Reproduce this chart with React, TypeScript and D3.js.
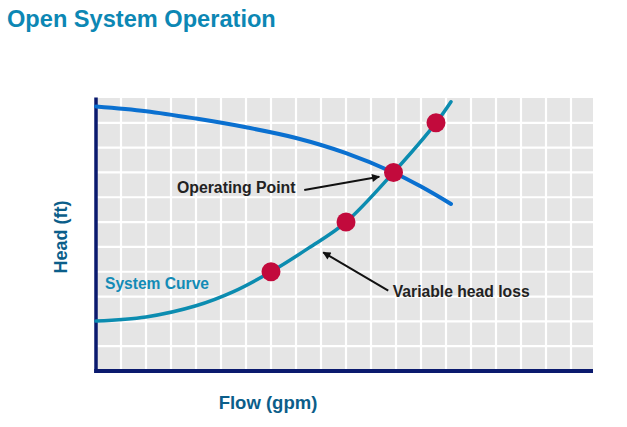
import * as d3 from "d3";

// Flow (gpm) / head (ft) values
const pumpFlow = [0, 20, 40, 60, 80, 100, 119, 130, 142];
const pumpHead = [106.6, 104.7, 101.7, 98.2, 93.9, 87.8, 80, 74.3, 67.3];

const systemFlow = [0, 20, 40, 55, 70, 85, 100, 119, 136, 142];
const systemHead = [20.1, 21.8, 26.3, 32, 40, 49.5, 60, 80, 100, 108.5];

const pointFlow = [70, 100, 119, 136];
const pointHead = [40, 60, 80, 100];

const gridFlow = d3.range(10, 200, 10);
const gridHead = d3.range(10, 110, 10);

const W = 627;
const H = 427;
const FONT = "'Liberation Sans', Arial, Helvetica, sans-serif";

export default function App() {
  const x = d3.scaleLinear().domain([0, 200]).range([96, 596]);
  const y = d3.scaleLinear().domain([0, 110]).range([371, 98]);
  const xMax = 198.8;

  const line = d3
    .line<[number, number]>()
    .x((d) => x(d[0]))
    .y((d) => y(d[1]))
    .curve(d3.curveCatmullRom.alpha(0.5));

  const pump = pumpFlow.map((f, i) => [f, pumpHead[i]] as [number, number]);
  const system = systemFlow.map((f, i) => [f, systemHead[i]] as [number, number]);

  return (
    <svg width={W} height={H} style={{ position: "absolute", left: 0, top: 0, background: "#fff" }} fontFamily={FONT}>
      <defs>
        <marker id="head" viewBox="0 0 10 10" refX="9" refY="5" markerWidth="9" markerHeight="8" markerUnits="userSpaceOnUse" orient="auto">
          <path d="M0,0 L10,5 L0,10 Z" fill="#111" />
        </marker>
      </defs>

      <text x={7} y={27} fontSize={23.6} fontWeight="bold" fill="#0c87b4">
        Open System Operation
      </text>

      {/* plot background */}
      <rect x={x(0)} y={y(110)} width={x(xMax) - x(0)} height={y(0) - y(110)} fill="#e5e5e5" />
      {gridFlow.map((f) => (
        <line key={"gx" + f} x1={x(f)} x2={x(f)} y1={y(110)} y2={y(0)} stroke="#fff" strokeWidth={2.2} />
      ))}
      {gridHead.map((h) => (
        <line key={"gy" + h} x1={x(0)} x2={x(xMax)} y1={y(h)} y2={y(h)} stroke="#fff" strokeWidth={2.2} />
      ))}

      {/* axes */}
      <line x1={x(0)} x2={x(0)} y1={y(110) - 0.5} y2={y(0) + 2} stroke="#0a1a6e" strokeWidth={3.5} />
      <line x1={x(0) - 1.75} x2={x(xMax)} y1={y(0)} y2={y(0)} stroke="#0a1a6e" strokeWidth={4} />

      {/* curves */}
      <path d={line(system) || ""} fill="none" stroke="#0b8cb0" strokeWidth={3.5} strokeLinecap="round" />
      <path d={line(pump) || ""} fill="none" stroke="#0a70d0" strokeWidth={4} strokeLinecap="round" />

      {pointFlow.map((f, i) => (
        <circle key={"p" + i} cx={x(f)} cy={y(pointHead[i])} r={9.5} fill="#c20a3c" />
      ))}

      {/* annotations */}
      <line x1={x(83.3)} y1={y(72.9)} x2={x(113.3)} y2={y(78.3)} stroke="#111" strokeWidth={2} markerEnd="url(#head)" />
      <text x={x(32.4)} y={y(71.6)} fontSize={15.8} fontWeight="bold" fill="#222">
        Operating Point
      </text>

      <line x1={x(116.9)} y1={y(32.4)} x2={x(90.9)} y2={y(47.8)} stroke="#111" strokeWidth={2} markerEnd="url(#head)" />
      <text x={x(118.7)} y={y(29.9)} fontSize={15.7} fontWeight="bold" fill="#222">
        Variable head loss
      </text>

      <text x={x(3.6)} y={y(33)} fontSize={15.6} fontWeight="bold" fill="#138bb6">
        System Curve
      </text>

      {/* axis titles */}
      <text transform={`translate(67,237) rotate(-90)`} textAnchor="middle" fontSize={18} fontWeight="bold" fill="#0b5e8a">
        Head (ft)
      </text>
      <text x={268} y={409} textAnchor="middle" fontSize={18.5} fontWeight="bold" fill="#0b5e8a">
        Flow (gpm)
      </text>
    </svg>
  );
}
